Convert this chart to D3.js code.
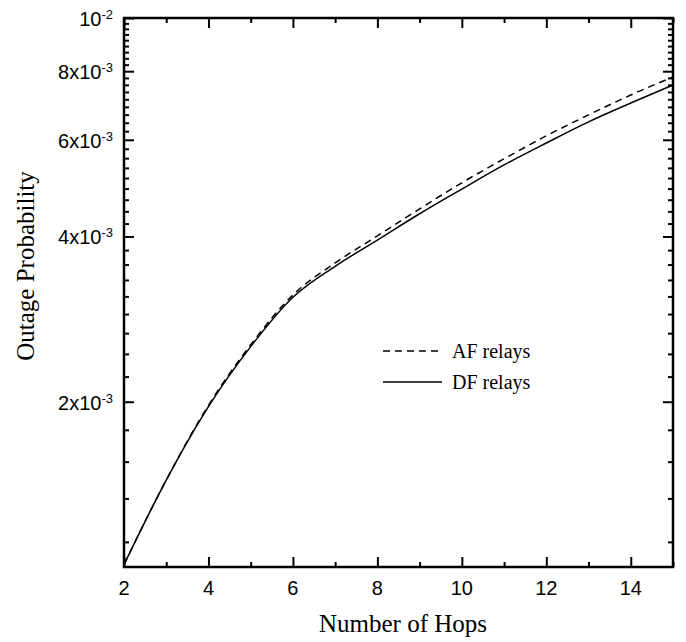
<!DOCTYPE html>
<html lang="en">
<head>
    <meta charset="UTF-8">
    <title>Outage Probability vs Number of Hops</title>
    <style>
      body { margin: 0; background: #fff; }
      svg { display: block; }
    </style>
</head>
<body>
  <div id="graph-container"></div>
  <script src="https://d3js.org/d3.v7.min.js"></script>
  <script>
    // values
    const hops = [2, 3, 4, 5, 6, 7, 8, 9, 10, 11, 12, 13, 14, 15];
    const afRelays = [1.01e-3, 1.44e-3, 1.97e-3, 2.54e-3, 3.13e-3, 3.58e-3, 4.01e-3, 4.49e-3, 5.01e-3, 5.54e-3, 6.10e-3, 6.66e-3, 7.24e-3, 7.81e-3];
    const dfRelays = [1.01e-3, 1.44e-3, 1.96e-3, 2.52e-3, 3.10e-3, 3.53e-3, 3.94e-3, 4.40e-3, 4.88e-3, 5.40e-3, 5.92e-3, 6.47e-3, 7.00e-3, 7.55e-3];

    const xMajor = [2, 4, 6, 8, 10, 12, 14];
    const xMinor = [3, 5, 7, 9, 11, 13, 15];
    const yMajor = [2e-3, 4e-3, 6e-3, 8e-3, 1e-2];
    const yLabels = [["2x10", "-3"], ["4x10", "-3"], ["6x10", "-3"], ["8x10", "-3"], ["10", "-2"]];

    const W = 686, H = 642;
    const margin = { top: 18, right: 13, bottom: 75, left: 124 };
    const width = W - margin.left - margin.right,
          height = H - margin.top - margin.bottom;

    // minor log ticks sit every 2/9 of 1e-3 between the majors
    const yMinor = d3.range(5, 46).filter(k => k % 9 !== 0).map(k => k * 2e-3 / 9);

    const svg = d3.select("#graph-container")
      .append("svg")
        .attr("width", W)
        .attr("height", H);

    const g = svg.append("g")
      .attr("transform", `translate(${margin.left}, ${margin.top})`);

    const x = d3.scaleLinear().domain([2, 15]).range([0, width]);
    const y = d3.scaleLog().domain([1e-3, 1e-2]).range([height, 0]);

    const tickFont = "'Liberation Sans', Arial, sans-serif";
    const serif = "'Liberation Serif', 'Times New Roman', serif";

    // frame
    g.append("rect")
      .attr("width", width)
      .attr("height", height)
      .style("fill", "none")
      .style("stroke", "#000")
      .style("stroke-width", 2.5);

    // inward ticks on all four sides, drawn with the library's axes
    function axisG(axis, tx, ty) {
      g.append("g")
        .attr("transform", `translate(${tx}, ${ty})`)
        .call(axis.tickFormat("").tickSizeOuter(0))
        .call(a => a.select(".domain").remove())
        .call(a => a.selectAll(".tick line").style("stroke", "#000").style("stroke-width", 2));
    }
    axisG(d3.axisBottom(x).tickValues(xMajor).tickSizeInner(-10), 0, height);
    axisG(d3.axisBottom(x).tickValues(xMinor).tickSizeInner(-5), 0, height);
    axisG(d3.axisTop(x).tickValues(xMajor).tickSizeInner(-10), 0, 0);
    axisG(d3.axisTop(x).tickValues(xMinor).tickSizeInner(-5), 0, 0);
    axisG(d3.axisLeft(y).tickValues(yMajor).tickSizeInner(-10), 0, 0);
    axisG(d3.axisLeft(y).tickValues(yMinor).tickSizeInner(-5), 0, 0);
    axisG(d3.axisRight(y).tickValues(yMajor).tickSizeInner(-10), width, 0);
    axisG(d3.axisRight(y).tickValues(yMinor).tickSizeInner(-5), width, 0);

    // bottom labels
    g.append("g")
      .selectAll("text")
      .data(xMajor)
      .join("text")
        .attr("x", d => x(d))
        .attr("y", height + 28)
        .style("text-anchor", "middle")
        .style("font-family", tickFont)
        .style("font-size", "20px")
        .text(d => d);

    // left labels with superscript exponents
    g.append("g")
      .selectAll("text")
      .data(yMajor)
      .join("text")
        .attr("x", -11)
        .attr("y", d => y(d) + 8)
        .style("text-anchor", "end")
        .style("font-family", tickFont)
        .style("font-size", "20px")
        .each(function(d, i) {
          const t = d3.select(this);
          t.append("tspan").text(yLabels[i][0]);
          t.append("tspan").attr("dy", "-0.55em").style("font-size", "13px").text(yLabels[i][1]);
        });

    // curves
    const line = d3.line()
      .x((d, i) => x(hops[i]))
      .y(d => y(d))
      .curve(d3.curveMonotoneX);

    g.append("path")
      .datum(afRelays)
      .attr("d", line)
      .attr("fill", "none")
      .attr("stroke", "#000")
      .attr("stroke-width", 1.5)
      .attr("stroke-dasharray", "7,5");

    g.append("path")
      .datum(dfRelays)
      .attr("d", line)
      .attr("fill", "none")
      .attr("stroke", "#000")
      .attr("stroke-width", 1.5);

    // legend
    const legend = svg.append("g").attr("transform", "translate(383, 351)");
    const items = [{ name: "AF relays", dash: "7,5" }, { name: "DF relays", dash: null }];
    items.forEach((it, i) => {
      legend.append("line")
        .attr("x1", 0).attr("x2", 59)
        .attr("y1", i * 31).attr("y2", i * 31)
        .attr("stroke", "#000")
        .attr("stroke-width", 1.5)
        .attr("stroke-dasharray", it.dash);
      legend.append("text")
        .attr("x", 69)
        .attr("y", i * 31 + 7)
        .style("font-family", serif)
        .style("font-size", "20px")
        .text(it.name);
    });

    // axis titles
    svg.append("text")
      .attr("x", 403)
      .attr("y", 632)
      .style("text-anchor", "middle")
      .style("font-family", serif)
      .style("font-size", "25px")
      .text("Number of Hops");

    svg.append("text")
      .attr("transform", "translate(34, 266) rotate(-90)")
      .style("text-anchor", "middle")
      .style("font-family", serif)
      .style("font-size", "25px")
      .text("Outage Probability");
  </script>
</body>
</html>
